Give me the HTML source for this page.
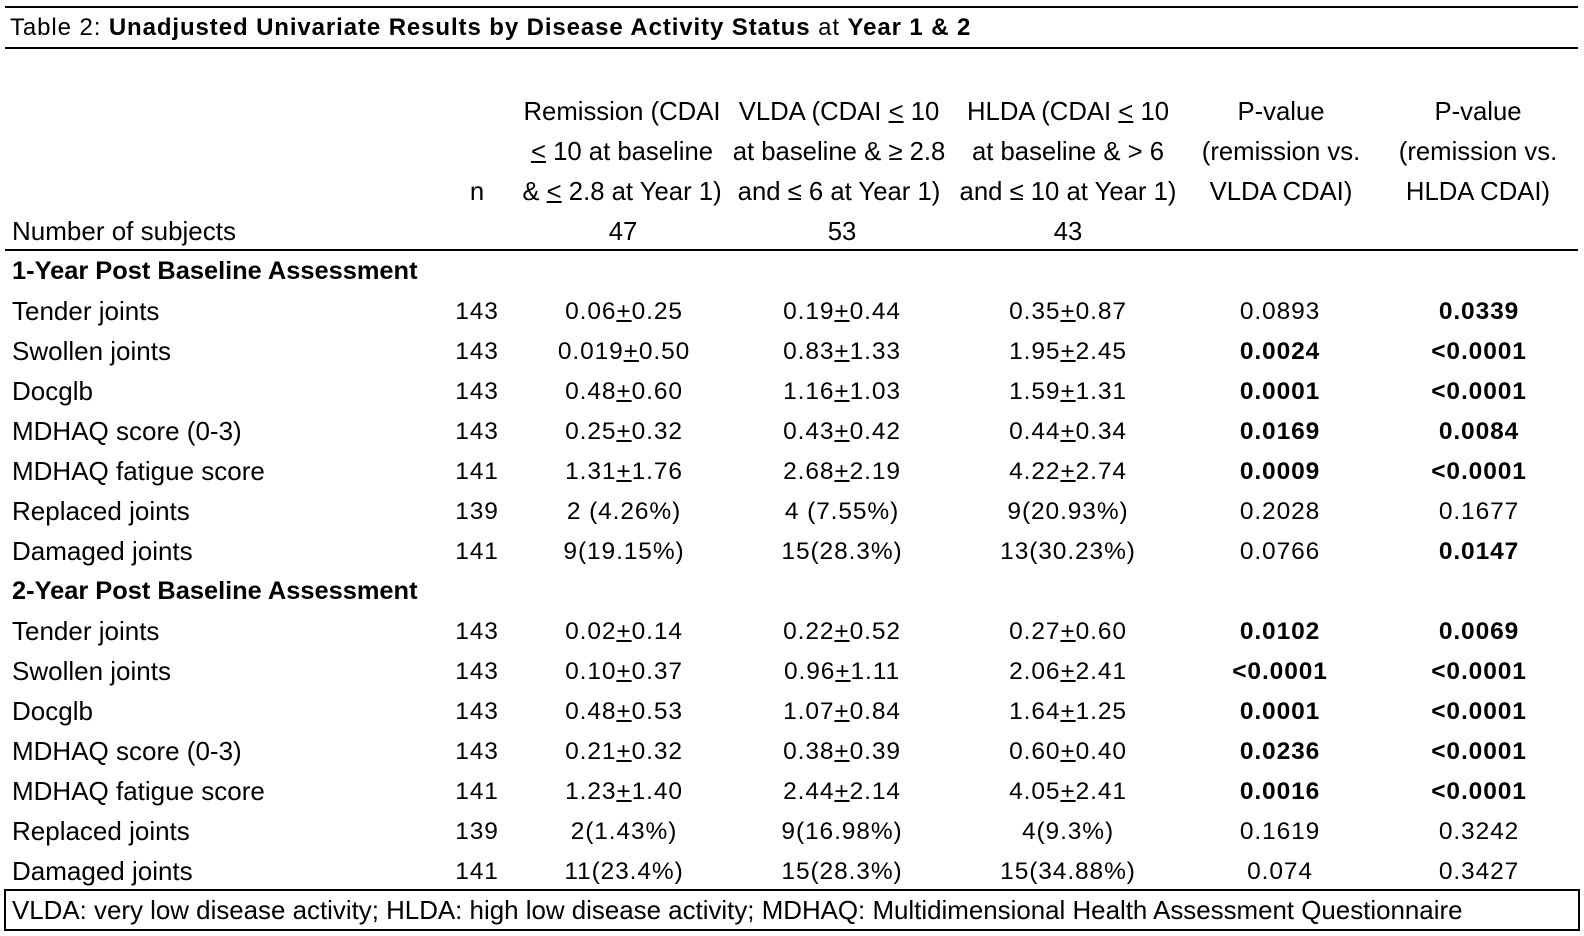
<!DOCTYPE html>
<html><head><meta charset="utf-8">
<style>
html,body{margin:0;padding:0;background:#fff;}
#pg{position:relative;width:1584px;height:936px;overflow:hidden;background:#fff;color:#000;font-family:"Liberation Sans",Arial,sans-serif;}
.hl{position:absolute;left:5px;width:1573px;height:2px;background:#000;}
.r{position:absolute;left:0;width:1584px;height:40px;line-height:40px;font-size:24.5px;white-space:nowrap;}
.r span{position:absolute;top:0;transform:translateX(-50%);white-space:nowrap;letter-spacing:0.9px;}
.r span.l{left:12px;top:-1px;transform:none;font-size:26px;letter-spacing:0;}
.r span.l.bd{font-size:25.4px;}
.r .n{left:477px;}
.r .a{left:624px;}
.r .b{left:842px;}
.r .c{left:1068px;}
.r .p{left:1280px;}
.r .q{left:1479px;}
.r span.h{font-size:25.7px;letter-spacing:0;}
.r span.h.a{left:622px;}
.r span.h.b{left:839px;}
.r span.h.c{left:1068px;}
.r span.h.p{left:1281px;}
.r span.h.q{left:1478px;}
.bd{font-weight:bold;}
u{text-decoration:underline;text-decoration-thickness:2px;text-underline-offset:1px;}
#title{position:absolute;left:10px;top:7.5px;height:40px;line-height:40px;font-size:24px;letter-spacing:0.9px;white-space:nowrap;}
#foot{position:absolute;left:4px;top:889px;width:1572px;height:38px;border:2px solid #000;}
#foot div{position:absolute;left:6px;top:0px;line-height:40px;font-size:25.9px;white-space:nowrap;}
</style></head>
<body><div id="pg">
<div class="hl" style="top:6px"></div>
<div id="title">Table 2: <b>Unadjusted Univariate Results by Disease Activity Status</b> at <b>Year 1 &amp; 2</b></div>
<div class="hl" style="top:46.5px"></div>

<div class="r" style="top:91.5px"><span class="h a">Remission (CDAI</span><span class="h b">VLDA (CDAI <u>&lt;</u> 10</span><span class="h c">HLDA (CDAI <u>&lt;</u> 10</span><span class="h p">P-value</span><span class="h q">P-value</span></div>
<div class="r" style="top:131.5px"><span class="h a"><u>&lt;</u> 10 at baseline</span><span class="h b">at baseline &amp; ≥ 2.8</span><span class="h c">at baseline &amp; &gt; 6</span><span class="h p">(remission vs.</span><span class="h q">(remission vs.</span></div>
<div class="r" style="top:171.5px"><span class="h n">n</span><span class="h a">&amp; <u>&lt;</u> 2.8 at Year 1)</span><span class="h b">and ≤ 6 at Year 1)</span><span class="h c">and ≤ 10 at Year 1)</span><span class="h p">VLDA CDAI)</span><span class="h q">HLDA CDAI)</span></div>
<div class="r" style="top:211.5px"><span class="l">Number of subjects</span><span class="h a" style="left:623px">47</span><span class="h b" style="left:842px">53</span><span class="h c" style="left:1068px">43</span></div>
<div class="hl" style="top:248.5px"></div>

<div class="r" style="top:251.5px"><span class="l bd">1-Year Post Baseline Assessment</span></div>
<div class="r" style="top:291.5px"><span class="l">Tender joints</span><span class="n">143</span><span class="a">0.06<u>+</u>0.25</span><span class="b">0.19<u>+</u>0.44</span><span class="c">0.35<u>+</u>0.87</span><span class="p">0.0893</span><span class="q bd">0.0339</span></div>
<div class="r" style="top:331.5px"><span class="l">Swollen joints</span><span class="n">143</span><span class="a">0.019<u>+</u>0.50</span><span class="b">0.83<u>+</u>1.33</span><span class="c">1.95<u>+</u>2.45</span><span class="p bd">0.0024</span><span class="q bd">&lt;0.0001</span></div>
<div class="r" style="top:371.5px"><span class="l">Docglb</span><span class="n">143</span><span class="a">0.48<u>+</u>0.60</span><span class="b">1.16<u>+</u>1.03</span><span class="c">1.59<u>+</u>1.31</span><span class="p bd">0.0001</span><span class="q bd">&lt;0.0001</span></div>
<div class="r" style="top:411.5px"><span class="l">MDHAQ score (0-3)</span><span class="n">143</span><span class="a">0.25<u>+</u>0.32</span><span class="b">0.43<u>+</u>0.42</span><span class="c">0.44<u>+</u>0.34</span><span class="p bd">0.0169</span><span class="q bd">0.0084</span></div>
<div class="r" style="top:451.5px"><span class="l">MDHAQ fatigue score</span><span class="n">141</span><span class="a">1.31<u>+</u>1.76</span><span class="b">2.68<u>+</u>2.19</span><span class="c">4.22<u>+</u>2.74</span><span class="p bd">0.0009</span><span class="q bd">&lt;0.0001</span></div>
<div class="r" style="top:491.5px"><span class="l">Replaced joints</span><span class="n">139</span><span class="a">2 (4.26%)</span><span class="b">4 (7.55%)</span><span class="c">9(20.93%)</span><span class="p">0.2028</span><span class="q">0.1677</span></div>
<div class="r" style="top:531.5px"><span class="l">Damaged joints</span><span class="n">141</span><span class="a">9(19.15%)</span><span class="b">15(28.3%)</span><span class="c">13(30.23%)</span><span class="p">0.0766</span><span class="q bd">0.0147</span></div>

<div class="r" style="top:571.5px"><span class="l bd">2-Year Post Baseline Assessment</span></div>
<div class="r" style="top:611.5px"><span class="l">Tender joints</span><span class="n">143</span><span class="a">0.02<u>+</u>0.14</span><span class="b">0.22<u>+</u>0.52</span><span class="c">0.27<u>+</u>0.60</span><span class="p bd">0.0102</span><span class="q bd">0.0069</span></div>
<div class="r" style="top:651.5px"><span class="l">Swollen joints</span><span class="n">143</span><span class="a">0.10<u>+</u>0.37</span><span class="b">0.96<u>+</u>1.11</span><span class="c">2.06<u>+</u>2.41</span><span class="p bd">&lt;0.0001</span><span class="q bd">&lt;0.0001</span></div>
<div class="r" style="top:691.5px"><span class="l">Docglb</span><span class="n">143</span><span class="a">0.48<u>+</u>0.53</span><span class="b">1.07<u>+</u>0.84</span><span class="c">1.64<u>+</u>1.25</span><span class="p bd">0.0001</span><span class="q bd">&lt;0.0001</span></div>
<div class="r" style="top:731.5px"><span class="l">MDHAQ score (0-3)</span><span class="n">143</span><span class="a">0.21<u>+</u>0.32</span><span class="b">0.38<u>+</u>0.39</span><span class="c">0.60<u>+</u>0.40</span><span class="p bd">0.0236</span><span class="q bd">&lt;0.0001</span></div>
<div class="r" style="top:771.5px"><span class="l">MDHAQ fatigue score</span><span class="n">141</span><span class="a">1.23<u>+</u>1.40</span><span class="b">2.44<u>+</u>2.14</span><span class="c">4.05<u>+</u>2.41</span><span class="p bd">0.0016</span><span class="q bd">&lt;0.0001</span></div>
<div class="r" style="top:811.5px"><span class="l">Replaced joints</span><span class="n">139</span><span class="a">2(1.43%)</span><span class="b">9(16.98%)</span><span class="c">4(9.3%)</span><span class="p">0.1619</span><span class="q">0.3242</span></div>
<div class="r" style="top:851.5px"><span class="l">Damaged joints</span><span class="n">141</span><span class="a">11(23.4%)</span><span class="b">15(28.3%)</span><span class="c">15(34.88%)</span><span class="p">0.074</span><span class="q">0.3427</span></div>

<div id="foot"><div>VLDA: very low disease activity; HLDA: high low disease activity; MDHAQ: Multidimensional Health Assessment Questionnaire</div></div>
</div></body></html>
